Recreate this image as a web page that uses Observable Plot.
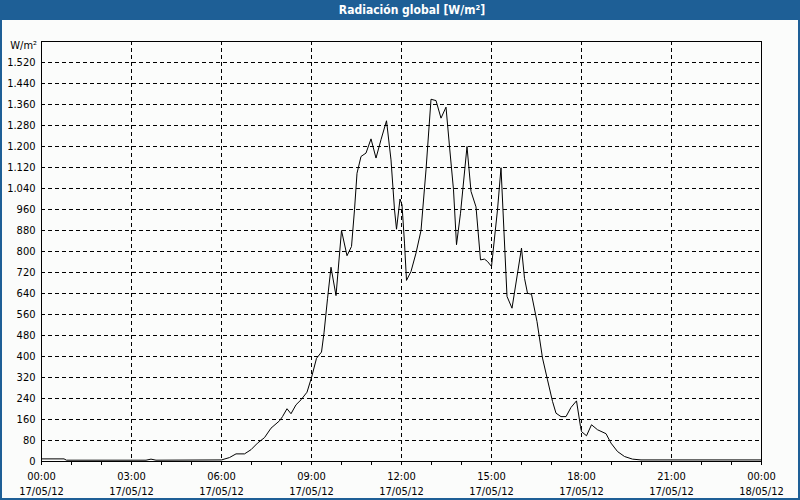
<!DOCTYPE html>
<html><head><meta charset="utf-8">
<script src="https://cdn.jsdelivr.net/npm/d3@7"></script>
<script src="https://cdn.jsdelivr.net/npm/@observablehq/plot@0.6"></script>
<style>
html,body{margin:0;padding:0;background:#fff;}
#wrap{position:relative;width:800px;height:500px;background:#fbfcfb;overflow:hidden;font-family:"DejaVu Sans Condensed","Liberation Sans",sans-serif;}
#title{position:absolute;left:0;top:0;width:800px;height:20px;background:#1e5f96;color:#fff;font-weight:bold;font-size:12px;text-align:center;line-height:20px;padding-left:24px;box-sizing:border-box;}
#border{position:absolute;left:0;top:0;width:800px;height:500px;box-sizing:border-box;border:2px solid #1e5f96;border-top:0;pointer-events:none;}
#unit{position:absolute;right:763px;top:39px;font-size:11px;line-height:14px;color:#000;white-space:nowrap;}
#chart{position:absolute;left:0;top:20px;}
</style>
</head><body>
<div id="wrap">
  <div id="title">Radiación global [W/m²]</div>
  <div id="unit">W/m²</div>
  <div id="chart"></div>
  <div id="border"></div>
</div>
<script>
const times = ["00:00","00:45","00:50","03:29","03:39","03:49","06:00","06:16","06:29","06:46","06:59","07:12","07:26","07:39","07:56","08:02","08:11","08:19","08:29","08:39","08:51","09:00","09:10","09:20","09:25","09:32","09:39","09:49","10:00","10:11","10:20","10:26","10:31","10:39","10:49","10:59","11:09","11:19","11:30","11:39","11:46","11:50","11:57","12:01","12:06","12:10","12:19","12:29","12:39","12:49","12:59","13:09","13:19","13:29","13:36","13:44","13:50","13:58","14:11","14:19","14:29","14:38","14:46","14:52","15:00","15:12","15:19","15:31","15:41","16:00","16:06","16:12","16:20","16:31","16:42","16:52","17:02","17:09","17:19","17:29","17:39","17:50","17:58","18:00","18:10","18:20","18:32","18:49","18:59","19:12","19:26","19:42","19:59","24:00"];
const values = [10,10,5,5,9,5,6,15,29,29,45,70,91,127,155,171,201,182,216,235,264,320,393,417,490,620,740,632,880,784,819,959,1098,1162,1175,1229,1156,1226,1298,1149,959,885,1000,978,832,690,724,794,880,1111,1380,1375,1308,1350,1200,1035,826,946,1200,1029,970,768,771,762,743,959,1119,629,584,813,698,641,637,533,394,311,229,184,171,171,206,231,133,114,98,140,121,106,70,38,19,9,6,6];
const yTicks = [0,80,160,240,320,400,480,560,640,720,800,880,960,1040,1120,1200,1280,1360,1440,1520];
const hourTicks = d3.range(0, 25, 1);
const labelTicks = d3.range(0, 25, 3);

const day0 = Date.UTC(2012, 4, 17);
const toDate = s => { const [h, m] = s.split(":").map(Number); return new Date(day0 + (h * 60 + m) * 60000); };
const data = times.map((t, i) => ({date: toDate(t), value: values[i]}));
const hourDates = hourTicks.map(h => new Date(day0 + h * 3600000));
const labelDates = labelTicks.map(h => new Date(day0 + h * 3600000));

const es = d3.formatLocale({decimal: ",", thousands: ".", grouping: [3], currency: ["", "€"]});
const fmtY = es.format(",d");
const pad = n => String(n).padStart(2, "0");
const fmtX = d => `${pad(d.getUTCHours())}:${pad(d.getUTCMinutes())}\n${pad(d.getUTCDate())}/${pad(d.getUTCMonth() + 1)}/${pad(d.getUTCFullYear() % 100)}`;

const chart = Plot.plot({
  width: 800,
  height: 480,
  marginTop: 21,
  marginBottom: 39,
  marginLeft: 41,
  marginRight: 39,
  style: {background: "transparent", fontFamily: "'DejaVu Sans Condensed','Liberation Sans',sans-serif", fontSize: "11px", color: "#000"},
  x: {type: "utc", domain: [new Date(day0), new Date(day0 + 86400000)]},
  y: {domain: [0, 1600]},
  marks: [
    Plot.gridY(yTicks, {stroke: "#000", strokeOpacity: 1, strokeDasharray: "4,3"}),
    Plot.gridX(labelDates, {stroke: "#000", strokeOpacity: 1, strokeDasharray: "4,3"}),
    Plot.axisY(yTicks, {tickSize: 0, tickPadding: 6, tickFormat: fmtY, label: null, fill: "#000"}),
    Plot.axisX(hourDates, {tickSize: 4, tickFormat: () => "", label: null, stroke: "#000"}),
    Plot.axisX(labelDates, {tickSize: 4, tickPadding: 4, tickFormat: fmtX, label: null, lineHeight: 1.36, stroke: "#000", fill: "#000"}),
    Plot.lineY(data, {x: "date", y: "value", stroke: "#000", strokeWidth: 1}),
    Plot.frame({stroke: "#000"})
  ]
});
document.getElementById("chart").appendChild(chart);
</script>
</body></html>
